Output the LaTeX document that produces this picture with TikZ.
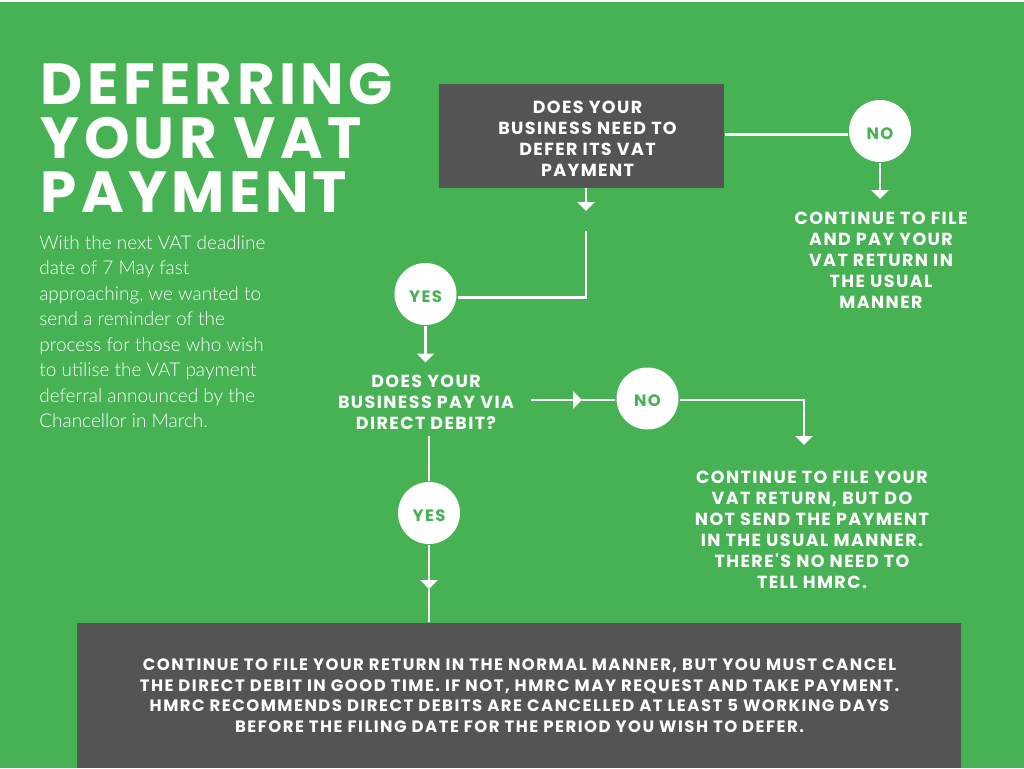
\documentclass[tikz,border=0pt]{standalone}
\usepackage{fontspec}
\usepackage{tikz}
\usetikzlibrary{arrows.meta}
\setmainfont{Lato Light}
\newfontfamily\headfont[LetterSpace=7.5]{Poppins}
\newfontfamily\stepfont[LetterSpace=8]{Poppins}
\newfontfamily\widefont[LetterSpace=9]{Poppins}
\definecolor{leafgreen}{HTML}{46B254}
\definecolor{slategrey}{HTML}{545454}

\begin{document}
\begin{tikzpicture}[x=1pt, y=-1pt, white, line width=2.6pt,
	box node/.style={fill=slategrey,inner sep=0pt,minimum height=104pt},
	main node/.style={circle,fill=white,text=leafgreen,inner sep=0pt,minimum size=62pt,text height=16pt,text depth=0pt,font=\stepfont\fontsize{16.5}{18}\selectfont\bfseries},
	step node/.style={align=center,inner sep=0pt,font=\stepfont\fontsize{17.5}{21}\selectfont\bfseries},
	tip/.style={-{Triangle[width=17pt,length=9pt]}}]

	\useasboundingbox (0,0) rectangle (1024,768);
	\fill[leafgreen] (0,2) rectangle (1024,768);

	\node[anchor=north west,inner sep=0pt,align=left,font=\headfont\fontsize{58}{54}\selectfont\bfseries] (title) at (39.5,62) {DEFERRING\\YOUR VAT\\PAYMENT};
	\node[anchor=north west,inner sep=0pt,align=left,font=\fontsize{19}{25.5}\selectfont] (intro) at (38,234) {With the next VAT deadline\\date of 7 May fast\\approaching, we wanted to\\send a reminder of the\\process for those who wish\\to utilise the VAT payment\\deferral announced by the\\Chancellor in March.};

	\node[box node,minimum width=285pt] (1) at (581.5,136) {};
	\node[step node] (1t) at (587.5,139) {DOES YOUR\\BUSINESS NEED TO\\DEFER ITS VAT\\PAYMENT};
	\node[main node] (2) at (880,131) {NO};
	\node[step node] (3) at (881,260) {CONTINUE TO FILE\\AND PAY YOUR\\VAT RETURN IN\\THE USUAL\\MANNER};
	\node[main node] (4) at (425.5,294) {YES};
	\node[step node] (5) at (426,402) {DOES YOUR\\BUSINESS PAY VIA\\DIRECT DEBIT?};
	\node[main node] (6) at (647.5,398.5) {NO};
	\node[step node] (7) at (812,529.5) {CONTINUE TO FILE YOUR\\VAT RETURN, BUT DO\\NOT SEND THE PAYMENT\\IN THE USUAL MANNER.\\THERE'S NO NEED TO\\TELL HMRC.};
	\node[main node] (8) at (429,513) {YES};
	\node[box node,minimum width=884pt,minimum height=145pt] (9) at (519,695.5) {};
	\node[step node,font=\widefont\fontsize{16.5}{20.5}\selectfont\bfseries] (9t) at (519.5,695.5) {CONTINUE TO FILE YOUR RETURN IN THE NORMAL MANNER, BUT YOU MUST CANCEL\\THE DIRECT DEBIT IN GOOD TIME. IF NOT, HMRC MAY REQUEST AND TAKE PAYMENT.\\HMRC RECOMMENDS DIRECT DEBITS ARE CANCELLED AT LEAST 5 WORKING DAYS\\BEFORE THE FILING DATE FOR THE PERIOD YOU WISH TO DEFER.};

	% free ends of the connectors
	\coordinate (a) at (586,188);
	\coordinate (b) at (586,211);
	\coordinate (c) at (586,231);
	\coordinate (d) at (586,297.5);
	\coordinate (e) at (880,199);
	\coordinate (f) at (425.5,362.5);
	\coordinate (g) at (531,400);
	\coordinate (h) at (582,400);
	\coordinate (i) at (804,400);
	\coordinate (j) at (804,445);
	\coordinate (k) at (429,436);
	\coordinate (l) at (429,589);
	\coordinate (m) at (725,134.5);

	\path[draw]
	(a) edge [tip] (b)
	(4) edge [tip] (f)
	(2) edge [tip] (e)
	(g) edge [tip] (h)
	(h) edge (h -| 6.west)
	(k) edge (8)
	(8) edge [tip] (l)
	(l) edge (l |- 9.north)
	(m) edge (m -| 2.west);
	\draw[line join=miter] (c) -- (d) -- (d -| 4.east);
	\draw[line join=miter] (i -| 6.east) -- (i) -- (804,436);
	\draw[tip] (804,436) -- (j);
\end{tikzpicture}
\end{document}
